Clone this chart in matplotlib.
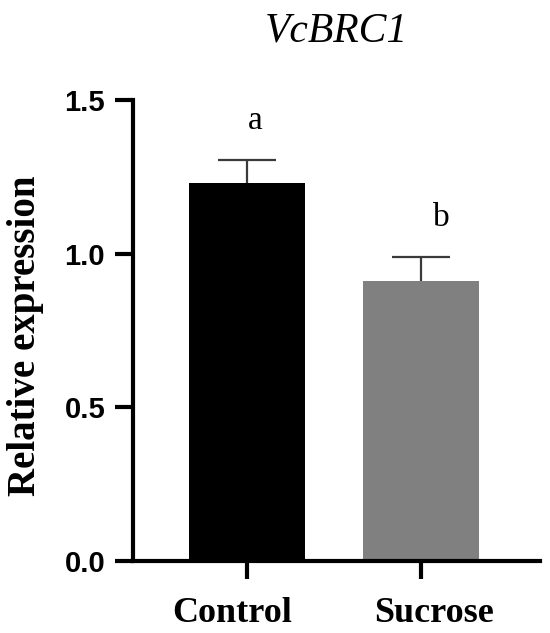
import matplotlib
matplotlib.use("Agg")
import matplotlib.pyplot as plt
import numpy as np

# data
groups = ["Control", "Sucrose"]
means = [1.23, 0.91]
errors = [0.075, 0.08]
letters = ["a", "b"]
colors = ["#000000", "#808080"]

fig = plt.figure(figsize=(5.5, 6.33), dpi=100)
ax = fig.add_axes([0.2418, 0.1137, 0.74, 0.7283])

x = np.arange(len(groups))
ax.bar(x, means, width=0.667, color=colors, zorder=2)

# only the upper half of the error bar is drawn
_, caps, _ = ax.errorbar(x, means, yerr=[np.zeros(len(errors)), errors],
                         fmt="none", ecolor="#3a3a3a", elinewidth=1.6,
                         capsize=21, capthick=1.6, zorder=1)
caps[0].set_visible(False)

# significance letters, a little to the right of the bars as in the figure
offsets = [0.05, 0.12]
for xi, m, e, lab, dx in zip(x, means, errors, letters, offsets):
    ax.text(xi + dx, m + e + 0.1, lab, ha="center", va="baseline",
            fontsize=24, family="Liberation Serif")

ax.set_xlim(-0.655, 1.684)
ax.set_ylim(0, 1.5)
ax.set_yticks([0.0, 0.5, 1.0, 1.5])
ax.set_yticklabels(["0.0", "0.5", "1.0", "1.5"], fontsize=21,
                   fontweight="bold", family="Liberation Sans")
ax.set_xticks(x)
ax.set_xticklabels([])

# group names sit slightly off their ticks in the original
trans = ax.get_xaxis_transform()
for xi, name, dx in zip(x, groups, [-0.086, 0.075]):
    ax.text(xi + dx, -0.132, name, transform=trans, ha="center", va="baseline",
            fontsize=26, fontweight="bold", family="Liberation Serif")

for side in ["top", "right"]:
    ax.spines[side].set_visible(False)
for side in ["left", "bottom"]:
    ax.spines[side].set_linewidth(3)
ax.tick_params(axis="both", width=3, length=13, pad=7)

ax.set_ylabel("Relative expression", fontsize=28, fontweight="bold",
              family="Liberation Serif", va="center")
ax.yaxis.set_label_coords(-0.265, 0.488)

ax.set_title("VcBRC1", fontsize=30, style="italic",
             family="Liberation Serif", pad=42)

plt.savefig("out.png", dpi=100)
